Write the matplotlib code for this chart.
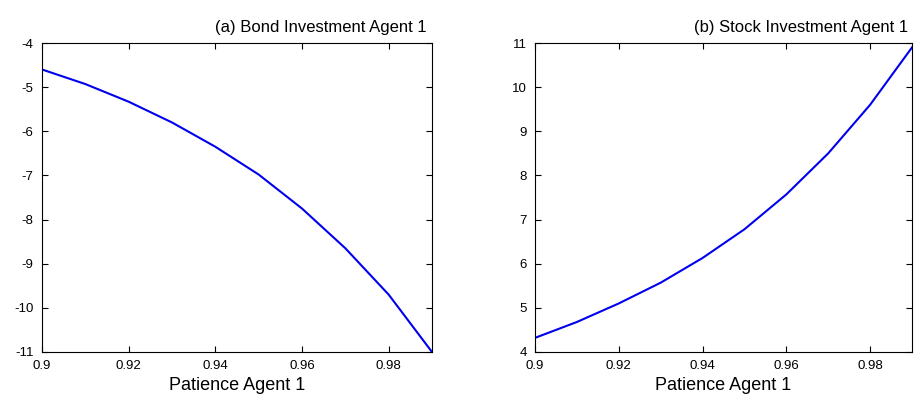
import numpy as np
import matplotlib.pyplot as plt

plt.rcParams['font.family'] = ['Liberation Sans', 'DejaVu Sans']
plt.rcParams['axes.unicode_minus'] = False

patience = [0.90, 0.91, 0.92, 0.93, 0.94, 0.95, 0.96, 0.97, 0.98, 0.99]
bond = [-4.6, -4.93, -5.33, -5.8, -6.35, -6.98, -7.75, -8.65, -9.7, -11.0]
stock = [4.32, 4.68, 5.1, 5.57, 6.13, 6.78, 7.57, 8.5, 9.6, 10.9]

fig = plt.figure(figsize=(9.14, 4.08), dpi=100)
ax1 = fig.add_axes([42/914, 1-352/408, 390/914, 309/408])
ax2 = fig.add_axes([535/914, 1-352/408, 377/914, 309/408])

def style(ax, title, tx):
    ax.set_xlim(0.9, 0.99)
    ax.set_xticks([0.9, 0.92, 0.94, 0.96, 0.98])
    ax.set_xticklabels(['0.9', '0.92', '0.94', '0.96', '0.98'])
    ax.tick_params(direction='in', top=True, right=True, labelsize=9.5, length=4, pad=6)
    ax.set_xlabel('Patience Agent 1', fontsize=13, labelpad=3)
    ax.text(tx, 1.025, title, transform=ax.transAxes, ha='right', va='bottom', fontsize=12)

ax1.plot(patience, bond, color='#0000ee', lw=1.5)
ax1.set_ylim(-11, -4)
ax1.set_yticks(range(-11, -3))
style(ax1, '(a) Bond Investment Agent 1', 0.985)

ax2.plot(patience, stock, color='#0000ee', lw=1.5)
ax2.set_ylim(4, 11)
ax2.set_yticks(range(4, 12))
style(ax2, '(b) Stock Investment Agent 1', 0.99)

fig.savefig('out.png', dpi=100)
